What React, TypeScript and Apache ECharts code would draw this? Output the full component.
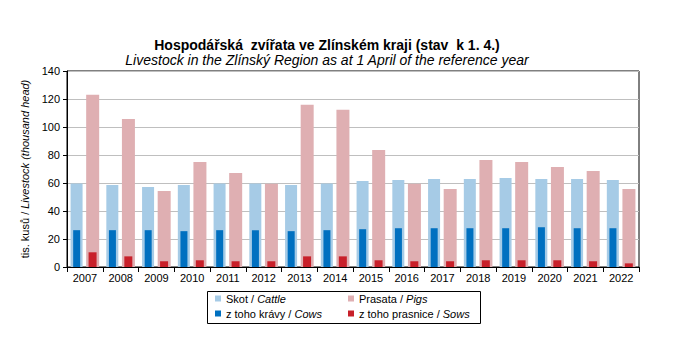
import React, { useEffect, useRef } from "react";
import * as echarts from "echarts";

const years = ["2007","2008","2009","2010","2011","2012","2013","2014","2015","2016","2017","2018","2019","2020","2021","2022"];
const cattle = [59.7,58.5,57.1,58.5,59.7,59.7,58.5,59.7,61.4,62.1,62.8,62.8,63.5,62.8,62.8,62.1];
const pigs = [123.0,105.8,54.2,75.0,67.1,59.5,115.9,112.3,83.6,59.5,55.7,76.4,75.0,71.4,68.6,55.7];
const cows = [26.3,26.3,26.3,25.6,26.3,26.3,25.6,26.3,27.0,27.7,27.7,27.7,27.7,28.4,27.7,27.7];
const sows = [10.5,7.6,4.1,4.8,4.1,4.1,7.6,7.6,4.8,4.1,4.1,4.8,4.8,4.8,4.1,2.6];
const yTicks = [0, 20, 40, 60, 80, 100, 120, 140];

const FONT = "Liberation Sans";

export default function App() {
  const ref = useRef<HTMLDivElement>(null);
  useEffect(() => {
    document.body.style.margin = "0";
    const chart = echarts.init(ref.current!, undefined, { renderer: "svg" });
    const names: Record<string, string> = {
      "Skot": "{a|Skot / }{b|Cattle}",
      "Prasata": "{a|Prasata / }{b|Pigs}",
      "z toho krávy": "{a|z toho krávy / }{b|Cows}",
      "z toho prasnice": "{a|z toho prasnice / }{b|Sows}",
    };
    const legendText = {
      fontFamily: FONT,
      fontSize: 11,
      color: "#000",
      rich: {
        a: { fontFamily: FONT, fontSize: 11, color: "#000" },
        b: { fontFamily: FONT, fontSize: 11, color: "#000", fontStyle: "italic" },
      },
    };
    const legendBase = {
      orient: "vertical",
      top: 293,
      itemWidth: 6,
      itemHeight: 6,
      itemGap: 4,
      padding: 0,
      icon: "rect",
      formatter: (n: string) => names[n],
      textStyle: legendText,
    };
    chart.setOption({
      animation: false,
      textStyle: { fontFamily: FONT },
      title: [
        {
          text: "Hospodářská  zvířata ve Zlínském kraji (stav  k 1. 4.)",
          left: 322,
          top: 33,
          textAlign: "center",
          textStyle: { fontFamily: FONT, fontSize: 14, fontWeight: "bold", color: "#000" },
        },
        {
          text: "Livestock in the Zlínský Region as at 1 April of the reference year",
          left: 322,
          top: 48,
          textAlign: "center",
          textStyle: { fontFamily: FONT, fontSize: 14, fontStyle: "italic", fontWeight: "normal", color: "#000" },
        },
      ],
      graphic: [
        {
          type: "rect",
          shape: { x: 207.5, y: 291.5, width: 273, height: 32 },
          style: { fill: "none", stroke: "#000", lineWidth: 1 },
          silent: true,
        },
      ],
      legend: [
        { ...legendBase, left: 215, data: ["Skot", "z toho krávy"] },
        { ...legendBase, left: 348, data: ["Prasata", "z toho prasnice"] },
      ],
      grid: {
        left: 67,
        right: 41,
        top: 71,
        bottom: 95,
        show: true,
        borderColor: "#000",
        borderWidth: 1,
      },
      xAxis: [
        {
          type: "category",
          data: years,
          axisLine: { lineStyle: { color: "#000" } },
          axisTick: { show: true, length: 5, lineStyle: { color: "#000" } },
          axisLabel: { color: "#000", fontFamily: FONT, fontSize: 11, margin: 5 },
        },
        {
          type: "category",
          data: years,
          show: false,
          position: "bottom",
        },
      ],
      yAxis: {
        type: "value",
        min: 0,
        max: 140,
        interval: 20,
        name: "{a|tis. kusů / }{b|Livestock (thousand head)}",
        nameLocation: "middle",
        nameGap: 35,
        nameTextStyle: {
          rich: {
            a: { fontFamily: FONT, fontSize: 11, color: "#000" },
            b: { fontFamily: FONT, fontSize: 11, color: "#000", fontStyle: "italic" },
          },
        },
        axisLine: { show: true, lineStyle: { color: "#000" } },
        axisTick: { show: true, length: 4, lineStyle: { color: "#000" } },
        axisLabel: {
          color: "#000",
          fontFamily: FONT,
          fontSize: 11,
          margin: 7,
          formatter: (v: number) => (yTicks.includes(v) ? String(v) : ""),
        },
        splitLine: { lineStyle: { color: "#bfbfbf" } },
      },
      series: [
        {
          name: "Skot",
          type: "bar",
          xAxisIndex: 0,
          data: cattle,
          barWidth: 12,
          barGap: "30%",
          itemStyle: { color: "#a6cbe6" },
        },
        {
          name: "Prasata",
          type: "bar",
          xAxisIndex: 0,
          data: pigs,
          barWidth: 13,
          barGap: "30%",
          itemStyle: { color: "#dfafb2" },
        },
        {
          name: "z toho krávy",
          type: "bar",
          xAxisIndex: 1,
          data: cows,
          barWidth: 7,
          barGap: "120%",
          itemStyle: { color: "#0070c0" },
        },
        {
          name: "z toho prasnice",
          type: "bar",
          xAxisIndex: 1,
          data: sows,
          barWidth: 8,
          barGap: "120%",
          itemStyle: { color: "#c8202a" },
        },
      ],
    });
    return () => chart.dispose();
  }, []);
  return <div ref={ref} style={{ width: 680, height: 362 }} />;
}
